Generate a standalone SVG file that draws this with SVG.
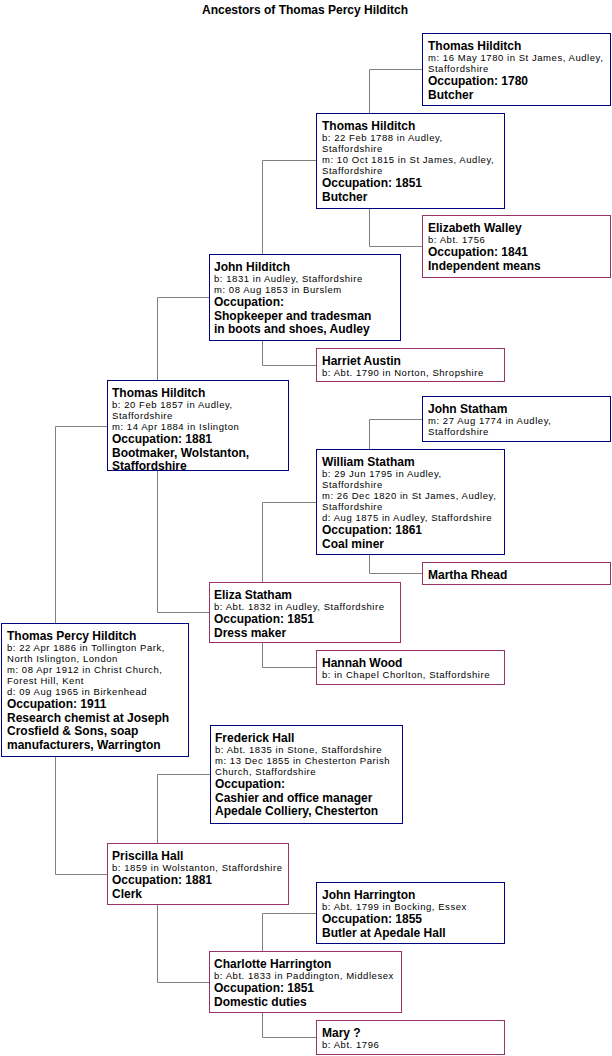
<svg xmlns="http://www.w3.org/2000/svg" width="612" height="1056" viewBox="0 0 612 1056">
<style>
text{font-family:"Liberation Sans",Arial,sans-serif;fill:#000}
.ti{font-size:12px;font-weight:bold}
.n{font-size:12px;font-weight:bold}
.d{font-size:9.5px;letter-spacing:0.55px}
.m{fill:#fff;stroke:#000080;stroke-width:1}
.f{fill:#fff;stroke:#993366;stroke-width:1}
.c{fill:none;stroke:#808080;stroke-width:1}
</style>
<rect width="612" height="1056" fill="#fff"/>
<text class="ti" x="305" y="14" text-anchor="middle">Ancestors of Thomas Percy Hilditch</text>
<g id="connectors">
<path class="c" d="M369.5,113 V69.5 H422"/>
<path class="c" d="M369.5,208 V246.5 H422"/>
<path class="c" d="M262.5,254 V160.5 H316"/>
<path class="c" d="M262.5,341 V365.5 H316"/>
<path class="c" d="M157.5,380 V297.5 H209"/>
<path class="c" d="M157.5,471 V612.5 H209"/>
<path class="c" d="M369.5,449 V419.5 H422"/>
<path class="c" d="M369.5,555 V573.5 H422"/>
<path class="c" d="M262.5,582 V502.5 H316"/>
<path class="c" d="M262.5,643 V667.5 H316"/>
<path class="c" d="M55.5,623 V426.5 H107"/>
<path class="c" d="M55.5,757 V874.5 H107"/>
<path class="c" d="M157.5,843 V774.5 H210"/>
<path class="c" d="M157.5,905 V982.5 H209"/>
<path class="c" d="M262.5,951 V913.5 H316"/>
<path class="c" d="M262.5,1013 V1037.5 H316"/>
</g>
<g id="n1">
<rect class="m" x="422.5" y="33.5" width="188" height="72"/>
<text class="n" x="428" y="49.5">Thomas Hilditch</text>
<text class="d" x="428" y="61">m: 16 May 1780 in St James, Audley,</text>
<text class="d" x="428" y="72">Staffordshire</text>
<text class="n" x="428" y="85">Occupation: 1780</text>
<text class="n" x="428" y="98.5">Butcher</text>
</g>
<g id="n2">
<rect class="m" x="316.5" y="113.5" width="188" height="95"/>
<text class="n" x="322" y="129.5">Thomas Hilditch</text>
<text class="d" x="322" y="141">b: 22 Feb 1788 in Audley,</text>
<text class="d" x="322" y="152">Staffordshire</text>
<text class="d" x="322" y="163">m: 10 Oct 1815 in St James, Audley,</text>
<text class="d" x="322" y="174">Staffordshire</text>
<text class="n" x="322" y="187">Occupation: 1851</text>
<text class="n" x="322" y="200.5">Butcher</text>
</g>
<g id="n3">
<rect class="f" x="422.5" y="215.5" width="188" height="62"/>
<text class="n" x="428" y="231.5">Elizabeth Walley</text>
<text class="d" x="428" y="243">b: Abt. 1756</text>
<text class="n" x="428" y="256">Occupation: 1841</text>
<text class="n" x="428" y="269.5">Independent means</text>
</g>
<g id="n4">
<rect class="m" x="209.5" y="254.5" width="191" height="86"/>
<text class="n" x="214" y="270.5">John Hilditch</text>
<text class="d" x="214" y="282">b: 1831 in Audley, Staffordshire</text>
<text class="d" x="214" y="293">m: 08 Aug 1853 in Burslem</text>
<text class="n" x="214" y="306">Occupation:</text>
<text class="n" x="214" y="319.5">Shopkeeper and tradesman</text>
<text class="n" x="214" y="333">in boots and shoes, Audley</text>
</g>
<g id="n5">
<rect class="f" x="316.5" y="348.5" width="188" height="33"/>
<text class="n" x="322" y="364.5">Harriet Austin</text>
<text class="d" x="322" y="376">b: Abt. 1790 in Norton, Shropshire</text>
</g>
<g id="n6">
<rect class="m" x="107.5" y="380.5" width="181" height="90"/>
<text class="n" x="112" y="396.5">Thomas Hilditch</text>
<text class="d" x="112" y="408">b: 20 Feb 1857 in Audley,</text>
<text class="d" x="112" y="419">Staffordshire</text>
<text class="d" x="112" y="430">m: 14 Apr 1884 in Islington</text>
<text class="n" x="112" y="443">Occupation: 1881</text>
<text class="n" x="112" y="456.5">Bootmaker, Wolstanton,</text>
<text class="n" x="112" y="469.5">Staffordshire</text>
</g>
<g id="n7">
<rect class="m" x="422.5" y="396.5" width="188" height="45"/>
<text class="n" x="428" y="412.5">John Statham</text>
<text class="d" x="428" y="424">m: 27 Aug 1774 in Audley,</text>
<text class="d" x="428" y="435">Staffordshire</text>
</g>
<g id="n8">
<rect class="m" x="316.5" y="449.5" width="188" height="105"/>
<text class="n" x="322" y="465.5">William Statham</text>
<text class="d" x="322" y="477">b: 29 Jun 1795 in Audley,</text>
<text class="d" x="322" y="488">Staffordshire</text>
<text class="d" x="322" y="499">m: 26 Dec 1820 in St James, Audley,</text>
<text class="d" x="322" y="510">Staffordshire</text>
<text class="d" x="322" y="521">d: Aug 1875 in Audley, Staffordshire</text>
<text class="n" x="322" y="534">Occupation: 1861</text>
<text class="n" x="322" y="547.5">Coal miner</text>
</g>
<g id="n9">
<rect class="f" x="422.5" y="562.5" width="188" height="22"/>
<text class="n" x="428" y="578.5">Martha Rhead</text>
</g>
<g id="n10">
<rect class="f" x="209.5" y="582.5" width="191" height="60"/>
<text class="n" x="214" y="598.5">Eliza Statham</text>
<text class="d" x="214" y="610">b: Abt. 1832 in Audley, Staffordshire</text>
<text class="n" x="214" y="623">Occupation: 1851</text>
<text class="n" x="214" y="636.5">Dress maker</text>
</g>
<g id="n11">
<rect class="f" x="316.5" y="650.5" width="188" height="34"/>
<text class="n" x="322" y="666.5">Hannah Wood</text>
<text class="d" x="322" y="678">b: in Chapel Chorlton, Staffordshire</text>
</g>
<g id="n12">
<rect class="m" x="1.5" y="623.5" width="187" height="133"/>
<text class="n" x="7" y="639.5">Thomas Percy Hilditch</text>
<text class="d" x="7" y="651">b: 22 Apr 1886 in Tollington Park,</text>
<text class="d" x="7" y="662">North Islington, London</text>
<text class="d" x="7" y="673">m: 08 Apr 1912 in Christ Church,</text>
<text class="d" x="7" y="684">Forest Hill, Kent</text>
<text class="d" x="7" y="695">d: 09 Aug 1965 in Birkenhead</text>
<text class="n" x="7" y="708">Occupation: 1911</text>
<text class="n" x="7" y="721.5">Research chemist at Joseph</text>
<text class="n" x="7" y="735">Crosfield &amp; Sons, soap</text>
<text class="n" x="7" y="748.5">manufacturers, Warrington</text>
</g>
<g id="n13">
<rect class="m" x="210.5" y="725.5" width="192" height="98"/>
<text class="n" x="215" y="741.5">Frederick Hall</text>
<text class="d" x="215" y="753">b: Abt. 1835 in Stone, Staffordshire</text>
<text class="d" x="215" y="764">m: 13 Dec 1855 in Chesterton Parish</text>
<text class="d" x="215" y="775">Church, Staffordshire</text>
<text class="n" x="215" y="788">Occupation:</text>
<text class="n" x="215" y="801.5">Cashier and office manager</text>
<text class="n" x="215" y="815">Apedale Colliery, Chesterton</text>
</g>
<g id="n14">
<rect class="f" x="107.5" y="843.5" width="181" height="61"/>
<text class="n" x="112" y="859.5">Priscilla Hall</text>
<text class="d" x="112" y="871">b: 1859 in Wolstanton, Staffordshire</text>
<text class="n" x="112" y="884">Occupation: 1881</text>
<text class="n" x="112" y="897.5">Clerk</text>
</g>
<g id="n15">
<rect class="m" x="316.5" y="882.5" width="188" height="61"/>
<text class="n" x="322" y="898.5">John Harrington</text>
<text class="d" x="322" y="910">b: Abt. 1799 in Bocking, Essex</text>
<text class="n" x="322" y="923">Occupation: 1855</text>
<text class="n" x="322" y="936.5">Butler at Apedale Hall</text>
</g>
<g id="n16">
<rect class="f" x="209.5" y="951.5" width="192" height="61"/>
<text class="n" x="214" y="967.5">Charlotte Harrington</text>
<text class="d" x="214" y="979">b: Abt. 1833 in Paddington, Middlesex</text>
<text class="n" x="214" y="992">Occupation: 1851</text>
<text class="n" x="214" y="1005.5">Domestic duties</text>
</g>
<g id="n17">
<rect class="f" x="316.5" y="1020.5" width="188" height="34"/>
<text class="n" x="322" y="1036.5">Mary ?</text>
<text class="d" x="322" y="1048">b: Abt. 1796</text>
</g>
</svg>
